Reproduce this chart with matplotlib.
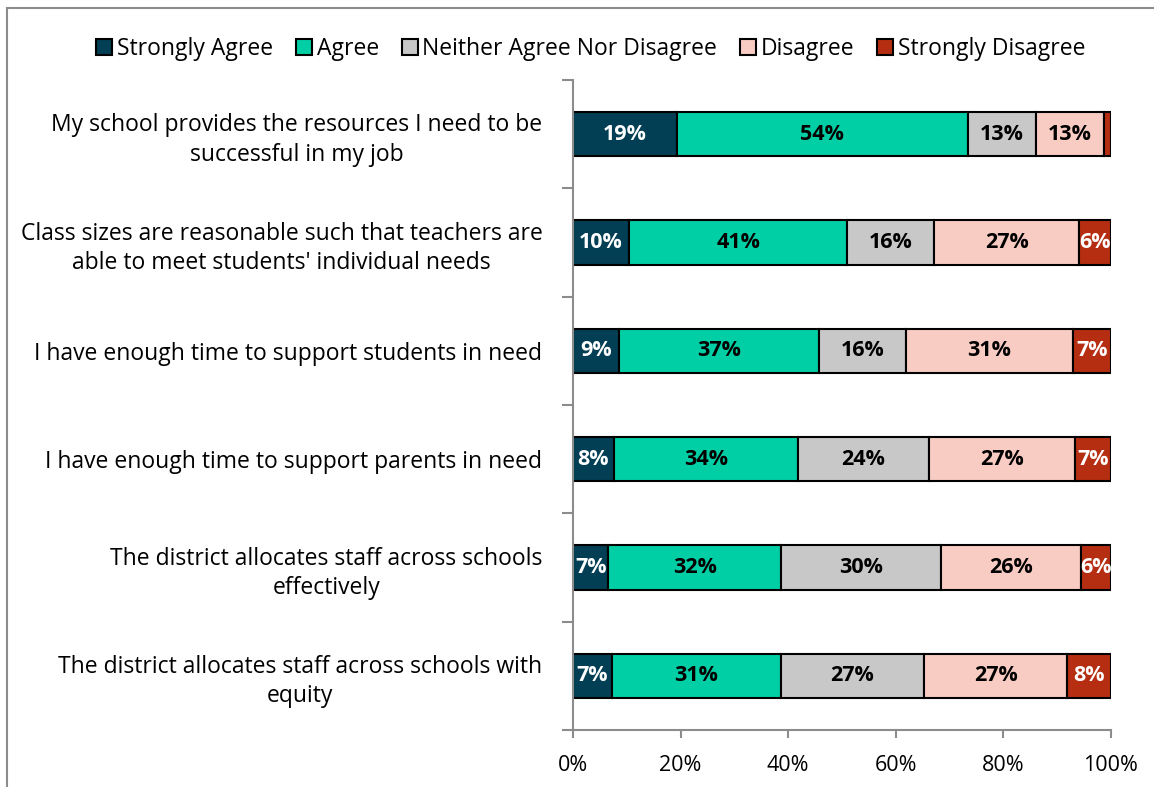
import matplotlib.pyplot as plt
from matplotlib.patches import Rectangle
import numpy as np

plt.rcParams['font.family'] = ['Open Sans', 'DejaVu Sans']

questions = [
    "My school provides the resources I need to be\nsuccessful in my job",
    "Class sizes are reasonable such that teachers are\nable to meet students' individual needs",
    "I have enough time to support students in need",
    "I have enough time to support parents in need",
    "The district allocates staff across schools\neffectively",
    "The district allocates staff across schools with\nequity",
]
responses = ["Strongly Agree", "Agree", "Neither Agree Nor Disagree", "Disagree", "Strongly Disagree"]

strongly_agree = [19.3, 10.4, 8.6, 7.6, 6.6, 7.2]
agree = [54.1, 40.6, 37.1, 34.2, 32.1, 31.4]
neutral = [12.7, 16.2, 16.2, 24.4, 29.7, 26.6]
disagree = [12.6, 26.8, 31.0, 27.1, 26.0, 26.7]
strongly_disagree = [1.3, 6.0, 7.1, 6.7, 5.6, 8.1]

colors = ['#023E54', '#00CFA6', '#C8C8C8', '#F9CCC3', '#B52E12']
text_colors = ['white', 'black', 'black', 'black', 'white']

fig = plt.figure(figsize=(11.54, 7.87), dpi=100)
ax = fig.add_axes([0.4965, 0.0724, 0.4662, 0.8259])

# thin grey frame around the chart area
fig.patches.append(Rectangle((7 / 1154, -0.02), 1.0, 1 - 8 / 787 + 0.02,
                             transform=fig.transFigure, fill=False,
                             edgecolor='#8C8C8C', linewidth=1.5, clip_on=False))

y = np.arange(len(questions))
left = np.zeros(len(questions))
series = [strongly_agree, agree, neutral, disagree, strongly_disagree]
for vals, name, c, tc in zip(series, responses, colors, text_colors):
    vals = np.array(vals)
    bars = ax.barh(y, vals, left=left, height=0.41, color=c, edgecolor='black',
                   linewidth=1.5, label=name)
    for b, v in zip(bars, vals):
        if v >= 3:
            ax.text(b.get_x() + b.get_width() / 2, b.get_y() + b.get_height() / 2,
                    f"{v:.0f}%", ha='center', va='center', color=tc,
                    fontsize=15.5, fontweight='bold')
    left += vals

ax.set_xlim(0, 100)
ax.set_ylim(len(questions) - 0.5, -0.5)
ax.set_xticks(np.arange(0, 101, 20))
ax.set_xticklabels([f"{t}%" for t in range(0, 101, 20)], fontsize=15.5)
ax.set_yticks(y)
ax.set_yticklabels(questions, fontsize=16.5, multialignment='center', linespacing=1.3)
ax.set_yticks(np.arange(-0.5, len(questions), 1), minor=True)
ax.tick_params(axis='y', which='major', length=0, pad=22)
ax.tick_params(axis='y', which='minor', length=8, width=1.5, color='#8C8C8C')
ax.tick_params(axis='x', length=6, width=1.5, color='#8C8C8C', pad=12)

for s in ['top', 'right']:
    ax.spines[s].set_visible(False)
for s in ['left', 'bottom']:
    ax.spines[s].set_color('#8C8C8C')
    ax.spines[s].set_linewidth(1.5)

fig.legend(loc='center', bbox_to_anchor=(0.512, 0.938), ncol=5, frameon=False,
           fontsize=16.5, handlelength=0.7, handleheight=0.7, handletextpad=0.2,
           columnspacing=1.0, borderaxespad=0)

fig.savefig('out.png', dpi=100)
